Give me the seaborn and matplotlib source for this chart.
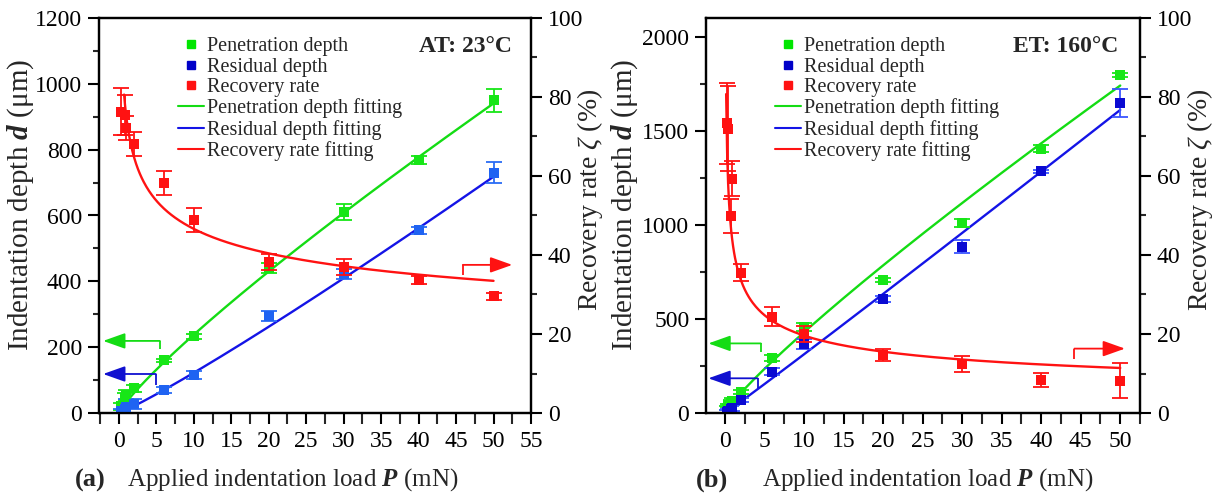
import numpy as np
import pandas as pd
import matplotlib
matplotlib.use("Agg")
import matplotlib.pyplot as plt
import seaborn as sns
from matplotlib.ticker import MultipleLocator
from matplotlib.lines import Line2D

# ---------------- data ----------------
# (a) ambient temperature, 23 °C
loads_a = [0.3, 0.8, 1, 2, 6, 10, 20, 30, 40, 50]
pen_a = [20, 45, 55, 75, 160, 233, 440, 610, 768, 950]
pen_err_a = [10, 15, 15, 10, 5, 8, 15, 25, 12, 35]
res_a = [5, 12, 18, 28, 70, 115, 295, 421, 555, 730]
res_err_a = [8, 15, 25, 15, 8, 12, 15, 15, 10, 32]
rec_a = [76.3, 75.4, 72.1, 68.1, 58.2, 48.9, 38.2, 37.0, 33.7, 29.5]
rec_err_a = [6, 5, 3, 3, 3, 3, 2, 2, 1, 1]

# (b) elevated temperature, 160 °C
loads_b = [0.2, 0.4, 0.7, 0.9, 2, 6, 10, 20, 30, 40, 50]
pen_b = [25, 40, 55, 65, 113, 291, 459, 708, 1010, 1406, 1798]
pen_err_b = [10, 10, 15, 15, 10, 17, 22, 10, 20, 20, 10]
res_b = [5, 12, 20, 28, 69, 220, 365, 606, 884, 1285, 1648]
res_err_b = [10, 10, 15, 15, 10, 18, 27, 18, 35, 8, 72]
rec_b = [73.3, 72.0, 49.9, 59.3, 35.5, 24.4, 20.0, 14.7, 12.4, 8.4, 8.2]
rec_err_b = [10.2, 10.7, 4.4, 4.4, 2.2, 2.5, 2.0, 1.5, 2.0, 1.7, 4.5]

# power-law fits  y = k * P**n  -> (k, n, first load of the curve)
fit_pen_a = (33.3, 0.854, 0.0)
fit_res_a = (9.71, 1.10, 0.0)
fit_rec_a = (74.9, -0.206, 0.7)
fit_pen_b = (57.9, 0.87, 0.0)
fit_res_b = (29.8, 1.02, 0.0)
fit_rec_b = (42.6, -0.337, 0.15)

# ---------------- style ----------------
sns.set_theme(style="ticks")
plt.rcParams["font.family"] = ["Liberation Serif", "DejaVu Serif"]
plt.rcParams["mathtext.fontset"] = "custom"
plt.rcParams["mathtext.rm"] = "Liberation Serif"
plt.rcParams["mathtext.it"] = "Liberation Serif:italic"
plt.rcParams["mathtext.bf"] = "Liberation Serif:bold"
plt.rcParams["mathtext.bfit"] = "Liberation Serif:italic:bold"

GREEN_PT = "#17e617"
GREEN_LN = "#14dc14"
RED = "#ff1212"
BLUE_LN = "#1414e6"

W, H = 1223, 498
fig = plt.figure(figsize=(W / 100, H / 100), dpi=100)


def fx(px):
    return px / W


def fy(py):
    return 1 - py / H


def fit_curve(fit, npts=400):
    k, n, p0 = fit
    p = np.linspace(max(p0, 1e-4), 50, npts)
    return pd.DataFrame({"load": p, "value": k * p ** n})


def series(ax, loads, vals, errs, color, ecolor):
    df = pd.DataFrame({"load": loads, "value": vals})
    ax.errorbar(loads, vals, yerr=errs, fmt="none", ecolor=ecolor,
                elinewidth=1.3, capsize=6, capthick=1.3, zorder=3)
    sns.scatterplot(data=df, x="load", y="value", ax=ax, marker="s", s=44,
                    color=color, linewidth=0, zorder=4, legend=False)


def fit_line(ax, fit, color):
    sns.lineplot(data=fit_curve(fit), x="load", y="value", ax=ax,
                 color=color, linewidth=1.7, zorder=2, legend=False)


def bent_arrow(ax, x0, y0, xc, yc, xt, color):
    ax.plot([x0, xc], [y0, yc], color=color, lw=1.3, zorder=5,
            solid_capstyle="butt")
    ax.annotate("", xy=(xt, yc), xytext=(xc, yc),
                arrowprops=dict(arrowstyle="-|>,head_length=0.9,head_width=0.32",
                                color=color, lw=1.3, mutation_scale=15,
                                shrinkA=0, shrinkB=0), zorder=5)


def style_axes(ax, axr, xlim, xmaj_max, ylim, ymaj, ymin):
    ax.set_xlim(*xlim)
    ax.set_ylim(*ylim)
    axr.set_ylim(0, 100)
    ax.set_xticks(np.arange(0, xmaj_max + 0.1, 5))
    ax.xaxis.set_minor_locator(MultipleLocator(2.5))
    ax.yaxis.set_major_locator(MultipleLocator(ymaj))
    ax.yaxis.set_minor_locator(MultipleLocator(ymin))
    axr.yaxis.set_major_locator(MultipleLocator(20))
    axr.yaxis.set_minor_locator(MultipleLocator(10))
    for a in (ax, axr):
        a.set_xlabel("")
        a.set_ylabel("")
        for s in a.spines.values():
            s.set_linewidth(1.6)
            s.set_color("black")
            s.set_visible(True)
        a.tick_params(which="major", direction="out", length=8, width=1.5,
                      labelsize=17, pad=4, colors="black")
        a.tick_params(which="minor", direction="out", length=4.5, width=1.5)
    ax.tick_params(axis="x", which="minor", length=8)
    ax.tick_params(axis="x", pad=5)
    axr.tick_params(axis="x", which="both", bottom=False, labelbottom=False)


def legend(ax, anchor, blue_leg):
    handles = [
        Line2D([], [], marker="s", ls="none", color="#00e600", ms=6),
        Line2D([], [], marker="s", ls="none", color=blue_leg, ms=6),
        Line2D([], [], marker="s", ls="none", color=RED, ms=6),
        Line2D([], [], color=GREEN_LN, lw=1.5),
        Line2D([], [], color=BLUE_LN, lw=1.5),
        Line2D([], [], color=RED, lw=1.5),
    ]
    labels = ["Penetration depth", "Residual depth", "Recovery rate",
              "Penetration depth fitting", "Residual depth fitting",
              "Recovery rate fitting"]
    ax.legend(handles, labels, loc="upper left", bbox_to_anchor=anchor,
              frameon=False, fontsize=14.5, handlelength=1.3,
              handletextpad=0.12, labelspacing=0.07, borderpad=0,
              borderaxespad=0)


# ---------------- panel (a) ----------------
ax_a = fig.add_axes([fx(99), fy(413), fx(432), 395 / H])
axr_a = ax_a.twinx()
fit_line(ax_a, fit_pen_a, GREEN_LN)
fit_line(ax_a, fit_res_a, BLUE_LN)
series(ax_a, loads_a, pen_a, pen_err_a, GREEN_PT, GREEN_PT)
series(ax_a, loads_a, res_a, res_err_a, "#1f63f2", "#2a6cf5")
fit_line(axr_a, fit_rec_a, RED)
series(axr_a, loads_a, rec_a, rec_err_a, RED, RED)
bent_arrow(ax_a, 5.47, 194, 5.47, 219, -2.1, GREEN_LN)
bent_arrow(ax_a, 4.93, 85, 4.93, 118.5, -2.1, "#1010d0")
bent_arrow(axr_a, 45.9, 34.9, 45.9, 37.5, 52.5, RED)
style_axes(ax_a, axr_a, (-2.65, 55), 55, (0, 1200), 200, 100)
legend(ax_a, (0.183, 0.952), "#0000c8")
ax_a.text(0.956, 0.927, "AT: 23°C", transform=ax_a.transAxes, ha="right",
          va="center", fontsize=17, fontweight="bold")

# ---------------- panel (b) ----------------
ax_b = fig.add_axes([fx(706), fy(413), fx(434), 395 / H])
axr_b = ax_b.twinx()
fit_line(ax_b, fit_pen_b, GREEN_LN)
fit_line(ax_b, fit_res_b, BLUE_LN)
series(ax_b, loads_b, pen_b, pen_err_b, GREEN_PT, GREEN_PT)
series(ax_b, loads_b, res_b, res_err_b, "#0a0ad2", "#3a55ff")
fit_line(axr_b, fit_rec_b, RED)
series(axr_b, loads_b, rec_b, rec_err_b, RED, RED)
bent_arrow(ax_b, 4.53, 323, 4.53, 370, -2.1, GREEN_LN)
bent_arrow(ax_b, 4.12, 131, 4.12, 184.5, -2.1, "#1010d0")
bent_arrow(axr_b, 44.2, 13.6, 44.2, 16.3, 50.6, RED)
style_axes(ax_b, axr_b, (-2.4, 52.5), 50, (0, 2100), 500, 250)
legend(ax_b, (0.159, 0.952), "#0000c8")
ax_b.text(0.949, 0.927, "ET: 160°C", transform=ax_b.transAxes, ha="right",
          va="center", fontsize=17, fontweight="bold")

# ---------------- axis titles ----------------
ylab_l = r"Indentation depth $\mathbfit{d}$ (μm)"
ylab_r = r"Recovery rate $\zeta$ (%)"
xlab = r"Applied indentation load $\mathbfit{P}$ (mN)"
for cx_l, cx_r, tag_x, lab_x, tag in [(21, 590, 90, 127, "(a)"),
                                      (625, 1200, 712, 762, "(b)")]:
    fig.text(fx(cx_l), fy(205), ylab_l, rotation=90, ha="center",
             va="center", fontsize=21)
    fig.text(fx(cx_r), fy(200), ylab_r, rotation=90, ha="center",
             va="center", fontsize=20)
    fig.text(fx(tag_x), fy(480), tag, ha="center", va="center",
             fontsize=19, fontweight="bold")
    fig.text(fx(lab_x), fy(480), xlab, ha="left", va="center", fontsize=18)

fig.savefig("out.png", dpi=100)
